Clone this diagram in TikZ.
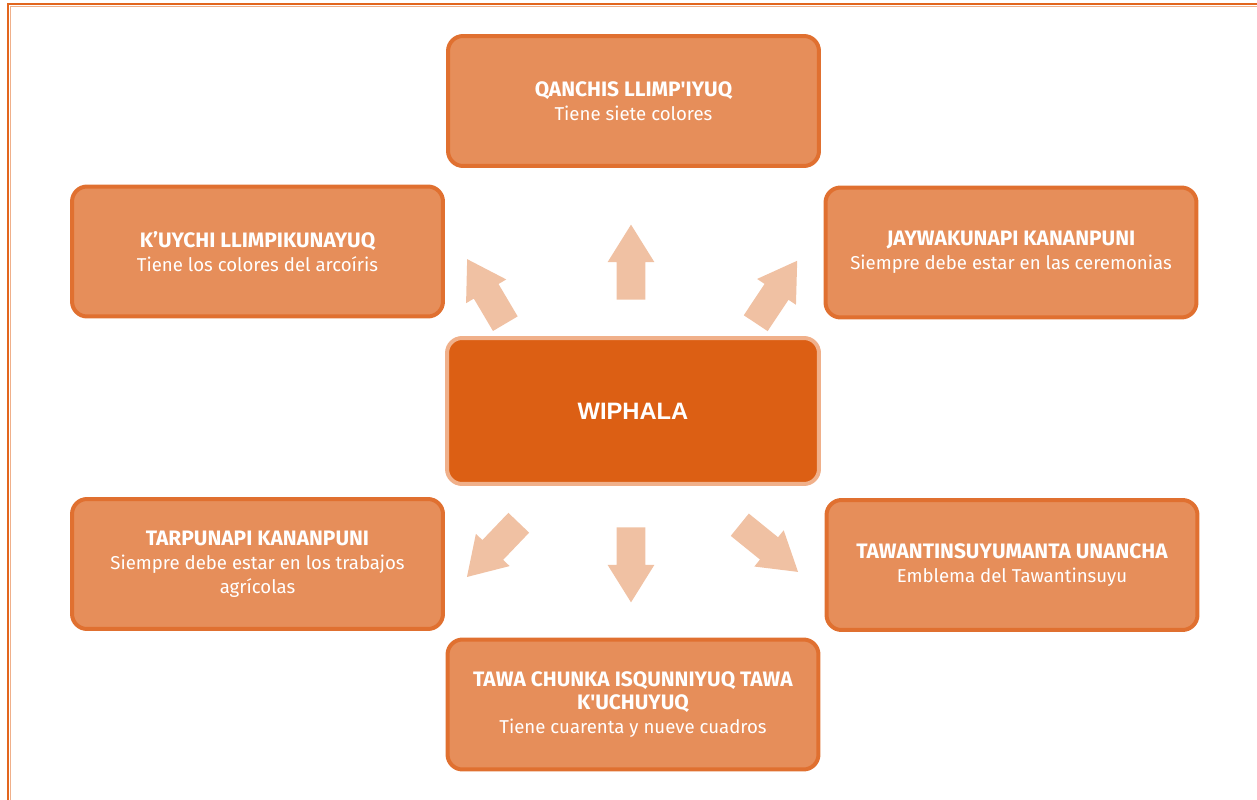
\documentclass[tikz,border=0pt]{standalone}
\usepackage{fontspec}
\setmainfont{Fira Sans}
\newfontfamily\arialfont{Liberation Sans}
\usetikzlibrary{shapes.arrows}

\definecolor{boxfill}{HTML}{E68E5A}
\definecolor{boxline}{HTML}{E07030}
\definecolor{corefill}{HTML}{DC5F14}
\definecolor{coreline}{HTML}{F0B08A}
\definecolor{arrowfill}{HTML}{F0C1A3}
\definecolor{framecol}{HTML}{E2661E}

\newcommand{\boxtitle}[1]{{\fontsize{11.9}{13.6}\selectfont\bfseries #1}}

\tikzset{
  idea/.style={draw=boxline, fill=boxfill, line width=0.08cm, rounded corners=0.3cm,
    minimum width=7.42cm, minimum height=2.6cm, inner sep=0pt, text=white, align=center,
    font=\fontsize{10.6}{13.6}\selectfont},
  core/.style={idea, draw=coreline, fill=corefill, minimum width=7.44cm, minimum height=2.92cm,
    font=\arialfont\bfseries\fontsize{13.5}{16}\selectfont},
  blockarrow/.style={single arrow, fill=arrowfill, draw=none, minimum height=1.5cm,
    minimum width=0.92cm, single arrow head extend=0.18cm, single arrow tip angle=64,
    inner xsep=0pt, inner ysep=0.28cm, text height=0pt, text depth=0pt, anchor=tail}
}

\begin{document}
\begin{tikzpicture}[x=0.02cm, y=-0.02cm]
\useasboundingbox (0,0) rectangle (1257,800);

% frame
\draw[framecol, line width=0.04cm] (8,800) -- (8,4) -- (1257,4);
\draw[coreline, line width=0.02cm] (10.5,800) -- (10.5,6.5) -- (1257,6.5);

% boxes
\node[idea] (qanchis) at (633.5,101) {\boxtitle{QANCHIS LLIMP\textquotesingle IYUQ}\\Tiene siete colores};
\node[idea] (kuychi) at (257.5,251.5) {\boxtitle{K’UYCHI LLIMPIKUNAYUQ}\\Tiene los colores del arcoíris};
\node[idea] (jaywa) at (1011,252.5) {\boxtitle{JAYWAKUNAPI KANANPUNI}\\Siempre debe estar en las ceremonias};
\node[core] (wiphala) at (633,411) {WIPHALA};
\node[idea] (tarpuy) at (257.5,564) {\boxtitle{TARPUNAPI KANANPUNI}\\Siempre debe estar en los trabajos\\agrícolas};
\node[idea] (tawantin) at (1012,565) {\boxtitle{TAWANTINSUYUMANTA UNANCHA}\\Emblema del Tawantinsuyu};
\node[idea] (tawa) at (633,704.5) {\boxtitle{TAWA CHUNKA ISQUNNIYUQ TAWA}\\\boxtitle{K\textquotesingle UCHUYUQ}\\Tiene cuarenta y nueve cuadros};

% arrows
\node[blockarrow, rotate=120.6] (toKuychi) at (505.5,324) {};
\node[blockarrow, rotate=90] (toQanchis) at (631,300) {};
\node[blockarrow, rotate=56.4] (toJaywa) at (755.5,323.5) {};
\node[blockarrow, rotate=226.3] (toTarpuy) at (519,522.5) {};
\node[blockarrow, rotate=270] (toTawa) at (631,527) {};
\node[blockarrow, rotate=-39] (toTawantin) at (739.5,524.5) {};
\end{tikzpicture}
\end{document}
